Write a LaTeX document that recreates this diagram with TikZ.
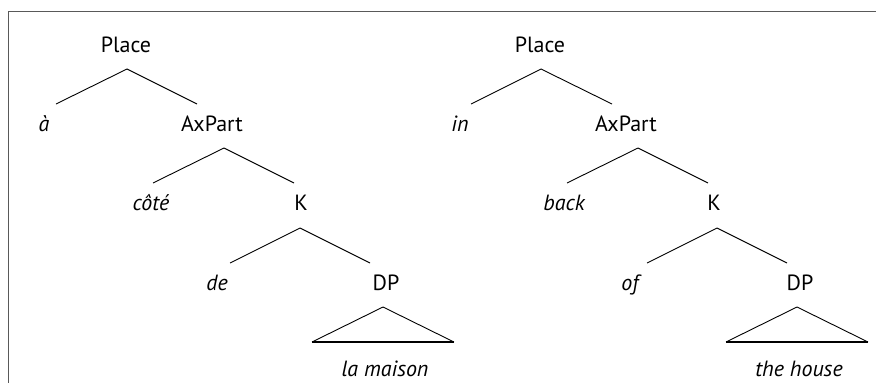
\documentclass[tikz,border=0pt]{standalone}
\usepackage{fontspec}
\setmainfont{PT Sans}
\begin{document}
\begin{tikzpicture}[x=1pt,y=-1pt,
  lab/.style={anchor=base,inner sep=0pt,font=\fontsize{22}{26}\selectfont},
  itl/.style={anchor=base,inner sep=0pt,font=\fontsize{22}{26}\selectfont\itshape},
  branch/.style={line width=0.9pt},
  tribase/.style={line width=2.6pt},
  frameline/.style={draw=black!65,line width=1pt}]
\useasboundingbox (0,0) rectangle (876,383);
% frame
\coordinate (f1) at (8,383);
\coordinate (f2) at (8,11);
\coordinate (f3) at (876,11);
\draw[frameline] (f1) -- (f2) -- (f3);

% ---------- left tree ----------
\node[lab] (placeL) at (126,52) {Place};
\node[itl] (aL) at (44,131) {à};
\node[lab] (axL) at (212,131) {AxPart};
\node[itl] (coteL) at (151,210) {côté};
\node[lab] (kL) at (301,210) {K};
\node[itl] (deL) at (217,290) {de};
\node[lab] (dpL) at (386,290) {DP};
\node[itl] (npL) at (385,376) {la maison};

\coordinate (p1a) at (127,69);
\coordinate (p1l) at (56,104);
\coordinate (p1r) at (197,104);
\coordinate (x1a) at (224,148);
\coordinate (x1l) at (153,183);
\coordinate (x1r) at (294,183);
\coordinate (k1a) at (300,228);
\coordinate (k1l) at (230,263);
\coordinate (k1r) at (370,263);
\coordinate (t1a) at (383,307);
\coordinate (t1l) at (312,342);
\coordinate (t1r) at (454,342);

\draw[branch] (p1l) -- (p1a) -- (p1r);
\draw[branch] (x1l) -- (x1a) -- (x1r);
\draw[branch] (k1l) -- (k1a) -- (k1r);
\draw[branch] (t1l) -- (t1a) -- (t1r);
\draw[tribase] (t1l) -- (t1r);

% ---------- right tree ----------
\node[lab] (placeR) at (540,52) {Place};
\node[itl] (inR) at (460,131) {in};
\node[lab] (axR) at (626,131) {AxPart};
\node[itl] (backR) at (564,210) {back};
\node[lab] (kR) at (714,210) {K};
\node[itl] (ofR) at (630,290) {of};
\node[lab] (dpR) at (800,290) {DP};
\node[itl] (npR) at (799,376) {the house};

\coordinate (p2a) at (541,69);
\coordinate (p2l) at (471,104);
\coordinate (p2r) at (612,104);
\coordinate (x2a) at (638,148);
\coordinate (x2l) at (567,183);
\coordinate (x2r) at (708,183);
\coordinate (k2a) at (717,228);
\coordinate (k2l) at (647,263);
\coordinate (k2r) at (787,263);
\coordinate (t2a) at (797,307);
\coordinate (t2l) at (726,342);
\coordinate (t2r) at (868,342);

\draw[branch] (p2l) -- (p2a) -- (p2r);
\draw[branch] (x2l) -- (x2a) -- (x2r);
\draw[branch] (k2l) -- (k2a) -- (k2r);
\draw[branch] (t2l) -- (t2a) -- (t2r);
\draw[tribase] (t2l) -- (t2r);
\end{tikzpicture}
\end{document}
